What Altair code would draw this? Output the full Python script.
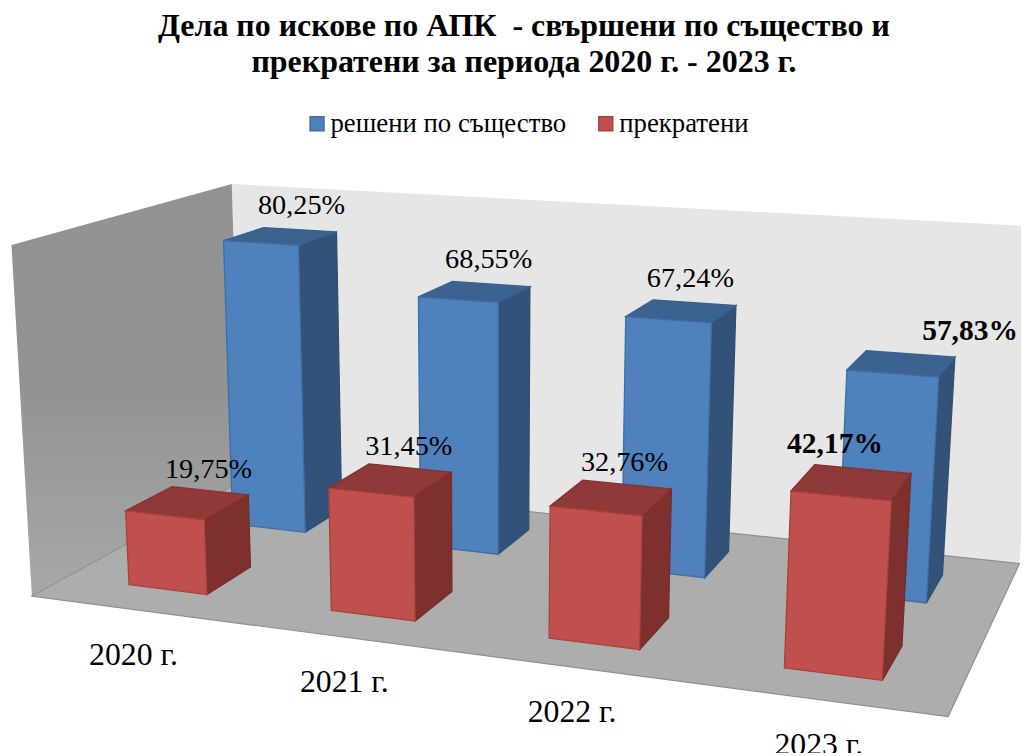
import altair as alt
import numpy as np

title_lines = ["Дела по искове по АПК\u00a0 - свършени по същество и", "прекратени за периода 2020 г. - 2023 г."]
years = ["2020 г.", "2021 г.", "2022 г.", "2023 г."]
series_back = "решени по същество"
series_front = "прекратени"
solved = [80.25, 68.55, 67.24, 57.83]
ended = [19.75, 31.45, 32.76, 42.17]
solved_labels = ["80,25%", "68,55%", "67,24%", "57,83%"]
ended_labels = ["19,75%", "31,45%", "32,76%", "42,17%"]

# value-axis top of the 3D box
AXIS_MAX = 89.5
BAR_W = 0.098
BAR_D = 0.21
CAT_START = 0.129
CAT_STEP = 0.2487
ROW_V = {series_back: 0.75, series_front: 0.25}

# camera calibration: box corners (u, v, k) -> screen px
calib = [((0, 0, 0), (33, 598)), ((1, 0, 0), (955, 720)), ((0, 1, 0), (242, 482)),
         ((1, 1, 0), (1028, 564)), ((0, 0, 1), (11, 243)), ((0, 1, 1), (234, 183)),
         ((1, 1, 1), (1050, 226))]
A = []
for (u, v, k), (x, y) in calib:
    A.append([u, v, k, 1, 0, 0, 0, 0, -x * u, -x * v, -x * k, -x])
    A.append([0, 0, 0, 0, u, v, k, 1, -y * u, -y * v, -y * k, -y])
P = np.linalg.svd(np.array(A, float))[2][-1].reshape(3, 4)


def proj(u, v, k):
    q = P @ np.array([u, v, k, 1.0])
    return [float(q[0] / q[2]) - 8, float(q[1] / q[2]) - 8]


def quad(pts, face):
    ring = [proj(*p) for p in pts]
    ring.append(ring[0])
    return {"type": "Feature", "properties": {"face": face},
            "geometry": {"type": "Polygon", "coordinates": [ring]}}


def bar_faces(i, value, series):
    c = CAT_START + i * CAT_STEP
    u0, u1 = c - BAR_W / 2, c + BAR_W / 2
    v0, v1 = ROW_V[series] - BAR_D / 2, ROW_V[series] + BAR_D / 2
    k = value / AXIS_MAX
    return [
        quad([(u1, v0, 0), (u1, v1, 0), (u1, v1, k), (u1, v0, k)], series + " side"),
        quad([(u0, v0, k), (u1, v0, k), (u1, v1, k), (u0, v1, k)], series + " top"),
        quad([(u0, v0, 0), (u1, v0, 0), (u1, v0, k), (u0, v0, k)], series),
    ]


faces = []
for i, val in enumerate(solved):
    faces += bar_faces(i, val, series_back)
for i, val in enumerate(ended):
    faces += bar_faces(i, val, series_front)

face_domain = [series_back, series_front, series_back + " side", series_back + " top",
               series_front + " side", series_front + " top"]
fill_range = ["#4f81bd", "#c0504d", "#32527a", "#3c628f", "#7d302e", "#8f3a38"]
stroke_range = ["#3f6ea6", "#a8403d", "#2f4f78", "#3a6090", "#752c2a", "#87302e"]

identity = dict(type="identity", scale=1, translate=[0, 0])

back_wall = alt.Chart(alt.Data(values=[quad([(0, 1, 0), (1, 1, 0), (1, 1, 1), (0, 1, 1)], "wall")])).mark_geoshape(
    fill="#e6e6e6", stroke=None).project(**identity)
side_wall = alt.Chart(alt.Data(values=[quad([(0, 0, 0), (0, 1, 0), (0, 1, 1), (0, 0, 1)], "wall")])).mark_geoshape(
    fill=alt.Gradient(gradient="linear", x1=0, y1=0, x2=0, y2=1,
                      stops=[alt.GradientStop(color="#929292", offset=0),
                             alt.GradientStop(color="#939393", offset=0.5),
                             alt.GradientStop(color="#a8a8a8", offset=1)]),
    stroke=None).project(**identity)
floor = alt.Chart(alt.Data(values=[quad([(0, 0, 0), (1, 0, 0), (1, 1, 0), (0, 1, 0)], "floor")])).mark_geoshape(
    fill="#adadad", stroke="#8f8f8f", strokeWidth=1.2).project(**identity)

legend = alt.Legend(title=None, orient="none", legendX=298, legendY=100, direction="horizontal",
                    values=[series_back, series_front], symbolType="square", symbolSize=196,
                    symbolStrokeWidth=1.5, labelFont="Liberation Serif", labelFontSize=27,
                    labelColor="#000000", labelOffset=0, columnPadding=26, labelLimit=400)
bars = alt.Chart(alt.Data(values=faces)).mark_geoshape(strokeWidth=1.3).encode(
    fill=alt.Fill("properties.face:N", scale=alt.Scale(domain=face_domain, range=fill_range), legend=legend, sort=None),
    stroke=alt.Stroke("properties.face:N", scale=alt.Scale(domain=face_domain, range=stroke_range), legend=legend, sort=None),
).project(**identity)

# label placement relative to the projected top centre of each bar (dx, dy, bold)
label_rows = []
for vals, names, series, offs in (
    (solved, solved_labels, series_back, [(21, -31, 0), (14, -33, 0), (9, -33, 0), (69, -33, 1)]),
    (ended, ended_labels, series_front, [(21, -34, 0), (18, -34, 0), (13, -36, 0), (-17, -38, 1)]),
):
    for i, (val, name, off) in enumerate(zip(vals, names, offs)):
        x, y = proj(CAT_START + i * CAT_STEP, ROW_V[series], val / AXIS_MAX)
        label_rows.append({"lon": x + off[0], "lat": y + off[1], "t": name, "b": "bold" if off[2] else "normal"})

cat_rows = []
for i, name in enumerate(years):
    x, y = proj((i + 0.5) / 4, 0, 0)
    cat_rows.append({"lon": x + 2, "lat": y + 46, "t": name})


def text_layer(rows, weight, size):
    return alt.Chart(alt.Data(values=rows)).mark_text(
        font="Liberation Serif", fontSize=size, fontWeight=weight, color="#000000",
        align="center", baseline="middle").encode(
        longitude="lon:Q", latitude="lat:Q", text="t:N").project(**identity)


value_plain = text_layer([r for r in label_rows if r["b"] == "normal"], "normal", 28.5)
value_bold = text_layer([r for r in label_rows if r["b"] == "bold"], "bold", 29.7)
cat_text = text_layer(cat_rows, "normal", 32)

chart = alt.layer(back_wall, side_wall, floor, bars, value_plain, value_bold, cat_text).properties(
    width=1021, height=748, padding=0, autosize=alt.AutoSizeParams(type="none"),
    title=alt.TitleParams(text=title_lines, font="Liberation Serif", fontSize=32.2, fontWeight="bold",
                          color="#000000", lineHeight=37, anchor="start", frame="group",
                          align="center", baseline="top", dx=520, dy=59, offset=-10),
    background="#ffffff",
).configure_view(stroke=None).resolve_scale(fill="independent", stroke="independent")

chart.save("out.html", embed_options={"renderer": "svg", "actions": False})
